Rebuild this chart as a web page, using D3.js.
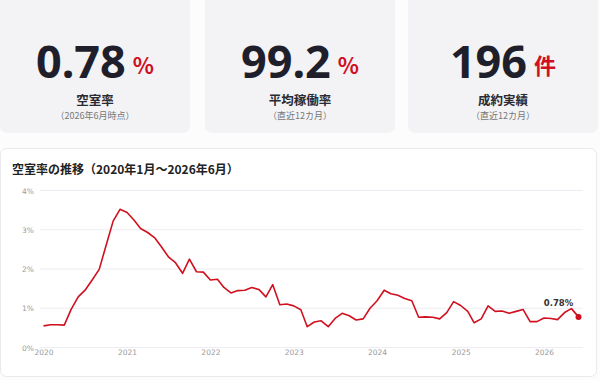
<!DOCTYPE html>
<html>
<head>
<meta charset="utf-8">
<script src="https://cdn.jsdelivr.net/npm/d3@7"></script>
<style>
body { margin: 0; background: #fcfcfd; }
svg { display: block; font-family: "Noto Sans CJK JP", "Noto Sans", sans-serif; }
</style>
</head>
<body>
<div class="container"></div>
<script>
// top stat cards
var statValues = ["0.78", "99.2", "196"];
var statUnits = ["%", "%", "件"];
var statLabels = ["空室率", "平均稼働率", "成約実績"];
var statNotes = ["（2026年6月時点）", "（直近12カ月）", "（直近12カ月）"];

// monthly vacancy rate (%), Jan 2020 - Jun 2026
var startMonth = new Date(2020, 0, 1);
var vacancy = [
	0.55, 0.58, 0.58, 0.57, 0.97, 1.29, 1.46, 1.72, 1.99, 2.60, 3.22, 3.52,
	3.44, 3.24, 3.03, 2.93, 2.80, 2.56, 2.31, 2.16, 1.89, 2.25, 1.93, 1.92,
	1.72, 1.74, 1.53, 1.39, 1.45, 1.46, 1.53, 1.48, 1.29, 1.60, 1.09, 1.11,
	1.06, 0.96, 0.53, 0.65, 0.68, 0.53, 0.74, 0.87, 0.81, 0.70, 0.73, 1.00,
	1.19, 1.46, 1.37, 1.33, 1.25, 1.19, 0.77, 0.78, 0.77, 0.73, 0.89, 1.17,
	1.07, 0.92, 0.63, 0.73, 1.06, 0.92, 0.93, 0.87, 0.92, 0.97, 0.66, 0.66,
	0.75, 0.74, 0.71, 0.89, 0.99, 0.78
];
var yTicks = [0, 1, 2, 3, 4];
var xTickYears = [2020, 2021, 2022, 2023, 2024, 2025, 2026];
var chartTitle = "空室率の推移（2020年1月～2026年6月）";

var W = 600, H = 380;
var red = "#d0101e", ink = "#1f1f2b";

var svg = d3.select(".container").append("svg")
	.attr("width", W)
	.attr("height", H);

// stat cards
var cardX = [0, 205, 408], cardW = 190;
statValues.forEach(function(v, i) {
	var g = svg.append("g");
	g.append("rect")
		.attr("x", cardX[i]).attr("y", -10)
		.attr("width", cardW).attr("height", 143)
		.attr("rx", 7)
		.style("fill", "#f3f3f6");
	var cx = cardX[i] + cardW / 2;
	var num = g.append("text")
		.attr("y", 78)
		.style("font-family", "'Noto Sans', sans-serif")
		.style("font-size", "45px")
		.style("font-weight", 700)
		.style("fill", ink)
		.text(v);
	var unit = g.append("text")
		.attr("y", 74)
		.style("font-size", "22px")
		.style("font-weight", 700)
		.style("fill", red)
		.text(statUnits[i]);
	var nw = num.node().getComputedTextLength();
	var uw = unit.node().getComputedTextLength();
	var gap = 7;
	var left = cx - (nw + gap + uw) / 2;
	num.attr("x", left);
	unit.attr("x", left + nw + gap);
	g.append("text")
		.attr("x", cx).attr("y", 105)
		.attr("text-anchor", "middle")
		.style("font-size", "12.5px")
		.style("font-weight", 700)
		.style("fill", "#2a2a33")
		.text(statLabels[i]);
	g.append("text")
		.attr("x", cx).attr("y", 119)
		.attr("text-anchor", "middle")
		.style("font-size", "9px")
		.style("fill", "#777")
		.text(statNotes[i]);
});

// chart card
svg.append("rect")
	.attr("x", 0.5).attr("y", 148.5)
	.attr("width", 596).attr("height", 228)
	.attr("rx", 6)
	.style("fill", "#fff")
	.style("stroke", "#e9e9ee");

svg.append("text")
	.attr("x", 12).attr("y", 174)
	.style("font-size", "12px")
	.style("font-weight", 700)
	.style("fill", "#222")
	.text(chartTitle);

var dates = vacancy.map(function(d, i) { return d3.timeMonth.offset(startMonth, i); });

var x = d3.scaleTime()
	.domain([startMonth, dates[dates.length - 1]])
	.range([43.5, 578.5]);
var y = d3.scaleLinear()
	.domain([0, 4])
	.range([347.5, 190.5]);

// grid + y labels
svg.append("g").selectAll("line").data(yTicks).enter().append("line")
	.attr("x1", 40).attr("x2", 583)
	.attr("y1", function(d) { return y(d); })
	.attr("y2", function(d) { return y(d); })
	.style("stroke", "#ececf2")
	.style("stroke-width", 1);

svg.append("g").selectAll("text").data(yTicks).enter().append("text")
	.attr("x", 34)
	.attr("y", function(d) { return y(d) + 3; })
	.attr("text-anchor", "end")
	.style("font-family", "'DejaVu Sans', sans-serif")
	.style("font-size", "7.5px")
	.style("fill", "#9a9a9a")
	.text(function(d) { return d + "%"; });

// x axis labels
var xAxis = d3.axisBottom(x)
	.tickValues(xTickYears.map(function(yr) { return new Date(yr, 0, 1); }))
	.tickFormat(d3.timeFormat("%Y"))
	.tickSize(0)
	.tickPadding(0);
var xg = svg.append("g")
	.attr("transform", "translate(0,350)")
	.call(xAxis);
xg.select(".domain").remove();
xg.selectAll("text")
	.style("font-family", "'DejaVu Sans', sans-serif")
	.style("font-size", "7.5px")
	.style("fill", "#9a9a9a");

// line
var line = d3.line()
	.x(function(d, i) { return x(dates[i]); })
	.y(function(d) { return y(d); });

svg.append("path")
	.datum(vacancy)
	.attr("d", line)
	.style("fill", "none")
	.style("stroke", red)
	.style("stroke-width", 1.6)
	.style("stroke-linejoin", "round");

var last = vacancy.length - 1;
svg.append("circle")
	.attr("cx", x(dates[last]))
	.attr("cy", y(vacancy[last]))
	.attr("r", 3)
	.style("fill", red);

svg.append("text")
	.attr("x", x(dates[last]) - 20)
	.attr("y", y(vacancy[last]) - 11)
	.attr("text-anchor", "middle")
	.style("font-family", "'DejaVu Sans', sans-serif")
	.style("font-size", "8.5px")
	.style("font-weight", 700)
	.style("fill", "#333")
	.text(vacancy[last] + "%");
</script>
</body>
</html>
